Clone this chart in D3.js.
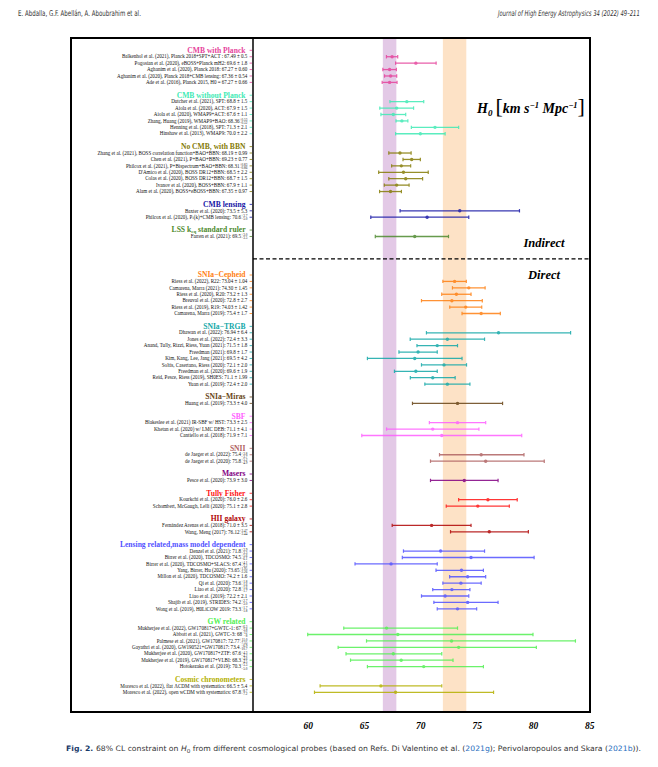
<!DOCTYPE html>
<html>
<head>
<meta charset="utf-8">
<script src="https://cdnjs.cloudflare.com/ajax/libs/d3/7.8.5/d3.min.js"></script>
<style>
  body { margin: 0; background: #fff; }
  svg { display: block; }
</style>
</head>
<body>
<div id="chart"></div>
<script>
// each entry: [label, H0, +err, -err (only when asymmetric)]
const cmbPlanck = [
  ["Balkenhol et al. (2021), Planck 2018+SPT+ACT : ", "67.49", "0.5"],
  ["Pogosian et al. (2020), eBOSS+Planck mH2: ", "69.6", "1.8"],
  ["Aghanim et al. (2020), Planck 2018: ", "67.27", "0.60"],
  ["Aghanim et al. (2020), Planck 2018+CMB lensing: ", "67.36", "0.54"],
  ["Ade et al. (2016), Planck 2015, H0 = ", "67.27", "0.66"]
];
const cmbNoPlanck = [
  ["Dutcher et al. (2021), SPT: ", "68.8", "1.5"],
  ["Aiola et al. (2020), ACT: ", "67.9", "1.5"],
  ["Aiola et al. (2020), WMAP9+ACT: ", "67.6", "1.1"],
  ["Zhang, Huang (2019), WMAP9+BAO: ", "68.36", "0.53", "0.52"],
  ["Henning et al. (2018), SPT: ", "71.3", "2.1"],
  ["Hinshaw et al. (2013), WMAP9: ", "70.0", "2.2"]
];
const noCmbBbn = [
  ["Zhang et al. (2021), BOSS correlation function+BAO+BBN: ", "68.19", "0.99"],
  ["Chen et al. (2021), P+BAO+BBN: ", "69.23", "0.77"],
  ["Philcox et al. (2021), P+Bispectrum+BAO+BBN: ", "68.31", "0.83", "0.86"],
  ["D'Amico et al. (2020), BOSS DR12+BBN: ", "68.5", "2.2"],
  ["Colas et al. (2020), BOSS DR12+BBN: ", "68.7", "1.5"],
  ["Ivanov et al. (2020), BOSS+BBN: ", "67.9", "1.1"],
  ["Alam et al. (2020), BOSS+eBOSS+BBN: ", "67.35", "0.97"]
];
const cmbLensing = [
  ["Baxter et al. (2020): ", "73.5", "5.3"],
  ["Philcox et al. (2020), P_{ℓ}(k)+CMB lensing: ", "70.6", "3.7", "5.0"]
];
const lssRuler = [
  ["Farren et al. (2021): ", "69.5", "3.0", "3.5"]
];
const cepheid = [
  ["Riess et al. (2022), R22: ", "73.04", "1.04"],
  ["Camarena, Marra (2021): ", "74.30", "1.45"],
  ["Riess et al. (2020), R20: ", "73.2", "1.3"],
  ["Breuval et al. (2020): ", "72.8", "2.7"],
  ["Riess et al. (2019), R19: ", "74.03", "1.42"],
  ["Camarena, Marra (2019): ", "75.4", "1.7"]
];
const trgb = [
  ["Dhawan et al. (2022): ", "76.94", "6.4"],
  ["Jones et al. (2022): ", "72.4", "3.3"],
  ["Anand, Tully, Rizzi, Riess, Yuan (2021): ", "71.5", "1.8"],
  ["Freedman (2021): ", "69.8", "1.7"],
  ["Kim, Kang, Lee, Jang (2021): ", "69.5", "4.2"],
  ["Soltis, Casertano, Riess (2020): ", "72.1", "2.0"],
  ["Freedman et al. (2020): ", "69.6", "1.9"],
  ["Reid, Pesce, Riess (2019), SH0ES: ", "71.1", "1.99"],
  ["Yuan et al. (2019): ", "72.4", "2.0"]
];
const miras = [
  ["Huang et al. (2019): ", "73.3", "4.0"]
];
const sbf = [
  ["Blakeslee et al. (2021) IR-SBF w/ HST: ", "73.3", "2.5"],
  ["Khetan et al. (2020) w/ LMC DEB: ", "71.1", "4.1"],
  ["Cantiello et al. (2018): ", "71.9", "7.1"]
];
const snii = [
  ["de Jaeger et al. (2022): ", "75.4", "3.8", "3.7"],
  ["de Jaeger et al. (2020): ", "75.8", "5.2", "4.9"]
];
const masers = [
  ["Pesce et al. (2020): ", "73.9", "3.0"]
];
const tullyFisher = [
  ["Kourkchi et al. (2020): ", "76.0", "2.6"],
  ["Schombert, McGaugh, Lelli (2020): ", "75.1", "2.8"]
];
const hiiGalaxy = [
  ["Fernández Arenas et al. (2018): ", "71.0", "3.5"],
  ["Wang, Meng (2017): ", "76.12", "3.47", "3.44"]
];
const lensing = [
  ["Denzel et al. (2021): ", "71.8", "3.9", "3.3"],
  ["Birrer et al. (2020), TDCOSMO: ", "74.5", "5.6", "6.1"],
  ["Birrer et al. (2020), TDCOSMO+SLACS: ", "67.4", "4.1", "3.2"],
  ["Yang, Birrer, Hu (2020): ", "73.65", "1.95", "2.26"],
  ["Millon et al. (2020), TDCOSMO: ", "74.2", "1.6"],
  ["Qi et al. (2020): ", "73.6", "1.8", "1.6"],
  ["Liao et al. (2020): ", "72.8", "1.6", "1.7"],
  ["Liao et al. (2019): ", "72.2", "2.1"],
  ["Shajib et al. (2019), STRIDES: ", "74.2", "2.7", "3.0"],
  ["Wong et al. (2019), H0LiCOW 2019: ", "73.3", "1.7", "1.8"]
];
const gw = [
  ["Mukherjee et al. (2022), GW170817+GWTC-1: ", "67", "6.3", "3.8"],
  ["Abbott et al. (2021), GWTC-3: ", "68", "12", "8"],
  ["Palmese et al. (2021), GW170817: ", "72.77", "11.0", "7.55"],
  ["Gayathri et al. (2020), GW190521+GW170817: ", "73.4", "6.9", "10.7"],
  ["Mukherjee et al. (2020), GW170817+ZTF: ", "67.6", "4.3", "4.2"],
  ["Mukherjee et al. (2019), GW170817+VLBI: ", "68.3", "4.6", "4.5"],
  ["Hotokezaka et al. (2019): ", "70.3", "5.3", "5.0"]
];
const chronometers = [
  ["Moresco et al. (2022), flat ΛCDM with systematics: ", "66.5", "5.4"],
  ["Moresco et al. (2022), open wCDM with systematics: ", "67.8", "8.7", "7.2"]
];

const groupTitles = ["CMB with Planck", "CMB without Planck", "No CMB, with BBN", "CMB lensing",
  "LSS k_{eq} standard ruler", "SNIa−Cepheid", "SNIa−TRGB", "SNIa−Miras", "SBF", "SNII", "Masers",
  "Tully Fisher", "HII galaxy", "Lensing related,mass model dependent", "GW related", "Cosmic chronometers"];
const groupEntries = [cmbPlanck, cmbNoPlanck, noCmbBbn, cmbLensing, lssRuler, cepheid, trgb, miras,
  sbf, snii, masers, tullyFisher, hiiGalaxy, lensing, gw, chronometers];
const groupColors = ["#e6439c", "#3eeab4", "#857c06", "#1616a6", "#4d8a2e", "#ff8012", "#12a8a8",
  "#684416", "#ff5eff", "#b06262", "#820082", "#ff1414", "#b00404", "#5252ff", "#52f052", "#b4b000"];
const xTicks = [60, 65, 70, 75, 80, 85];
const bandPlanck = [66.67, 67.87];
const bandShoes = [72.0, 74.08];

const W = 658, H = 767;
const svg = d3.select("#chart").append("svg").attr("width", W).attr("height", H);
const serif = "'Liberation Serif', 'Times New Roman', serif";
const narrow = "'Liberation Sans Narrow', 'DejaVu Sans Condensed', 'Liberation Sans', sans-serif";

const plotL = 253, plotR = 590, plotT = 38, plotB = 712;
const x = d3.scaleLinear().domain([55, 85]).range([251.4, 589.3]);
const y = d3.scaleLinear().domain([0, 100]).range([50.3, 692.3]);

// lay the rows out: header, entries, one blank row
let rows = [], row = 0, dashRow = 0;
groupEntries.forEach((entries, gi) => {
  rows.push({ header: true, gi, row });
  entries.forEach((e, k) => {
    const v = +e[1], up = +e[2], dn = e.length > 3 ? +e[3] : +e[2];
    rows.push({ header: false, gi, row: row + 1 + k, e, v, lo: v - dn, hi: v + up });
  });
  row += entries.length + 2;
  if (gi === 4) { dashRow = row + 1.5; row += 4; }
});

// bands
svg.append("rect").attr("x", x(bandPlanck[0])).attr("y", plotT)
  .attr("width", x(bandPlanck[1]) - x(bandPlanck[0])).attr("height", plotB - plotT)
  .attr("fill", "#e3c9e6");
svg.append("rect").attr("x", x(bandShoes[0])).attr("y", plotT)
  .attr("width", x(bandShoes[1]) - x(bandShoes[0])).attr("height", plotB - plotT)
  .attr("fill", "#fde2c6");

// small markup helper: _{..} subscript
function rich(sel, str) {
  str.split(/(_\{[^}]*\})/).forEach(p => {
    if (!p) return;
    if (p.startsWith("_{")) sel.append("tspan").attr("font-size", "65%").attr("baseline-shift", "-12%").text(p.slice(2, -1));
    else sel.append("tspan").text(p);
  });
}

const labels = svg.append("g");
rows.forEach(r => {
  const col = groupColors[r.gi], yy = y(r.row);
  labels.append("line").attr("x1", 249.6).attr("x2", 252).attr("y1", yy).attr("y2", yy)
    .attr("stroke", col).attr("stroke-width", 0.8);
  if (r.header) {
    const t = labels.append("text").attr("x", 245.5).attr("y", yy + 2.4).attr("text-anchor", "end")
      .attr("font-family", serif).attr("font-weight", "bold").attr("font-size", 7.6).attr("fill", col);
    rich(t, groupTitles[r.gi]);
    return;
  }
  const e = r.e, tx = 247.3;
  let shift = 0, main = e[0] + e[1];
  if (e.length > 3) {
    const sup = labels.append("text").attr("x", tx).attr("y", yy - 0.2).attr("text-anchor", "end")
      .attr("font-family", serif).attr("font-size", 3.3).attr("fill", "#111").text("+" + e[2]);
    const sub = labels.append("text").attr("x", tx).attr("y", yy + 2.9).attr("text-anchor", "end")
      .attr("font-family", serif).attr("font-size", 3.3).attr("fill", "#111").text("−" + e[3]);
    shift = Math.max(sup.node().getComputedTextLength(), sub.node().getComputedTextLength()) + 0.2;
  } else {
    main += " ± " + e[2];
  }
  const t = labels.append("text").attr("x", tx - shift).attr("y", yy + 1.7).attr("text-anchor", "end")
    .attr("font-family", serif).attr("font-size", 5.05).attr("fill", "#111");
  rich(t, main);
});

// error bars
const bars = svg.append("g").attr("opacity", 0.85);
rows.filter(r => !r.header).forEach(r => {
  const col = groupColors[r.gi], yy = y(r.row);
  bars.append("line").attr("x1", x(r.lo)).attr("x2", x(r.hi)).attr("y1", yy).attr("y2", yy)
    .attr("stroke", col).attr("stroke-width", 1.3);
  [r.lo, r.hi].forEach(v => bars.append("line").attr("x1", x(v)).attr("x2", x(v))
    .attr("y1", yy - 1.7).attr("y2", yy + 1.7).attr("stroke", col).attr("stroke-width", 1.2));
  bars.append("circle").attr("cx", x(r.v)).attr("cy", yy).attr("r", 1.7).attr("fill", col);
});

// frame, divider and separator
svg.append("rect").attr("x", 71).attr("y", plotT).attr("width", plotR - 71).attr("height", plotB - plotT)
  .attr("fill", "none").attr("stroke", "#000").attr("stroke-width", 2);
svg.append("line").attr("x1", plotL).attr("x2", plotL).attr("y1", plotT).attr("y2", plotB)
  .attr("stroke", "#000").attr("stroke-width", 1.5);
svg.append("line").attr("x1", plotL).attr("x2", plotR).attr("y1", y(dashRow)).attr("y2", y(dashRow))
  .attr("stroke", "#000").attr("stroke-width", 1.2).attr("stroke-dasharray", "4,2.5");

// x axis
const ax = svg.append("g").attr("transform", `translate(0,${plotB})`)
  .call(d3.axisBottom(x).tickValues(xTicks).tickSize(0).tickPadding(10));
ax.select(".domain").remove();
ax.selectAll("text").attr("font-family", serif).attr("font-weight", "bold")
  .attr("font-style", "italic").attr("font-size", 9.5).attr("fill", "#000");

// titles inside the plot
const ttl = svg.append("text").attr("x", 477).attr("y", 113).attr("font-family", serif)
  .attr("font-weight", "bold").attr("font-style", "italic").attr("font-size", 14);
ttl.append("tspan").text("H");
ttl.append("tspan").attr("font-size", 9).attr("baseline-shift", "-3").text("0");
ttl.append("tspan").attr("font-size", 22).attr("font-weight", "normal").attr("font-style", "normal").attr("dx", 3).text("[");
ttl.append("tspan").text("km s");
ttl.append("tspan").attr("font-size", 8.5).attr("baseline-shift", "5").text("−1");
ttl.append("tspan").text(" Mpc");
ttl.append("tspan").attr("font-size", 8.5).attr("baseline-shift", "5").text("−1");
ttl.append("tspan").attr("font-size", 22).attr("font-weight", "normal").attr("font-style", "normal").text("]");

svg.append("text").attr("x", 544).attr("y", 247).attr("text-anchor", "middle").attr("font-family", serif)
  .attr("font-weight", "bold").attr("font-style", "italic").attr("font-size", 12.5).text("Indirect");
svg.append("text").attr("x", 544).attr("y", 279).attr("text-anchor", "middle").attr("font-family", serif)
  .attr("font-weight", "bold").attr("font-style", "italic").attr("font-size", 12.5).text("Direct");

// running header: squeeze horizontally to the page's condensed face
function squeezed(str, x0, y0, width, anchorEnd, italic) {
  const t = svg.append("text").attr("font-family", narrow).attr("font-size", 8)
    .attr("fill", "#333").attr("font-style", italic ? "italic" : "normal").text(str);
  const k = width / t.node().getComputedTextLength();
  const xs = anchorEnd ? x0 - width : x0;
  t.attr("transform", `translate(${xs},${y0}) scale(${k},1)`);
}
squeezed("E. Abdalla, G.F. Abellán, A. Aboubrahim et al.", 18, 16, 123, false, false);
squeezed("Journal of High Energy Astrophysics 34 (2022) 49–211", 640, 16, 142, true, true);

const cap = svg.append("text").attr("x", 66).attr("y", 751).attr("font-family", narrow)
  .attr("font-size", 7.4).attr("fill", "#333").attr("textLength", 575).attr("lengthAdjust", "spacingAndGlyphs");
cap.append("tspan").attr("font-weight", "bold").attr("fill", "#1a3a6a").text("Fig. 2. ");
cap.append("tspan").text("68% CL constraint on ");
cap.append("tspan").attr("font-style", "italic").text("H");
cap.append("tspan").attr("font-size", 5.5).attr("baseline-shift", "-1.5").text("0");
cap.append("tspan").text(" from different cosmological probes (based on Refs. Di Valentino et al. (");
cap.append("tspan").attr("fill", "#2a6fc0").text("2021g");
cap.append("tspan").text("); Perivolaropoulos and Skara (");
cap.append("tspan").attr("fill", "#2a6fc0").text("2021b");
cap.append("tspan").text(")).");
</script>
</body>
</html>
